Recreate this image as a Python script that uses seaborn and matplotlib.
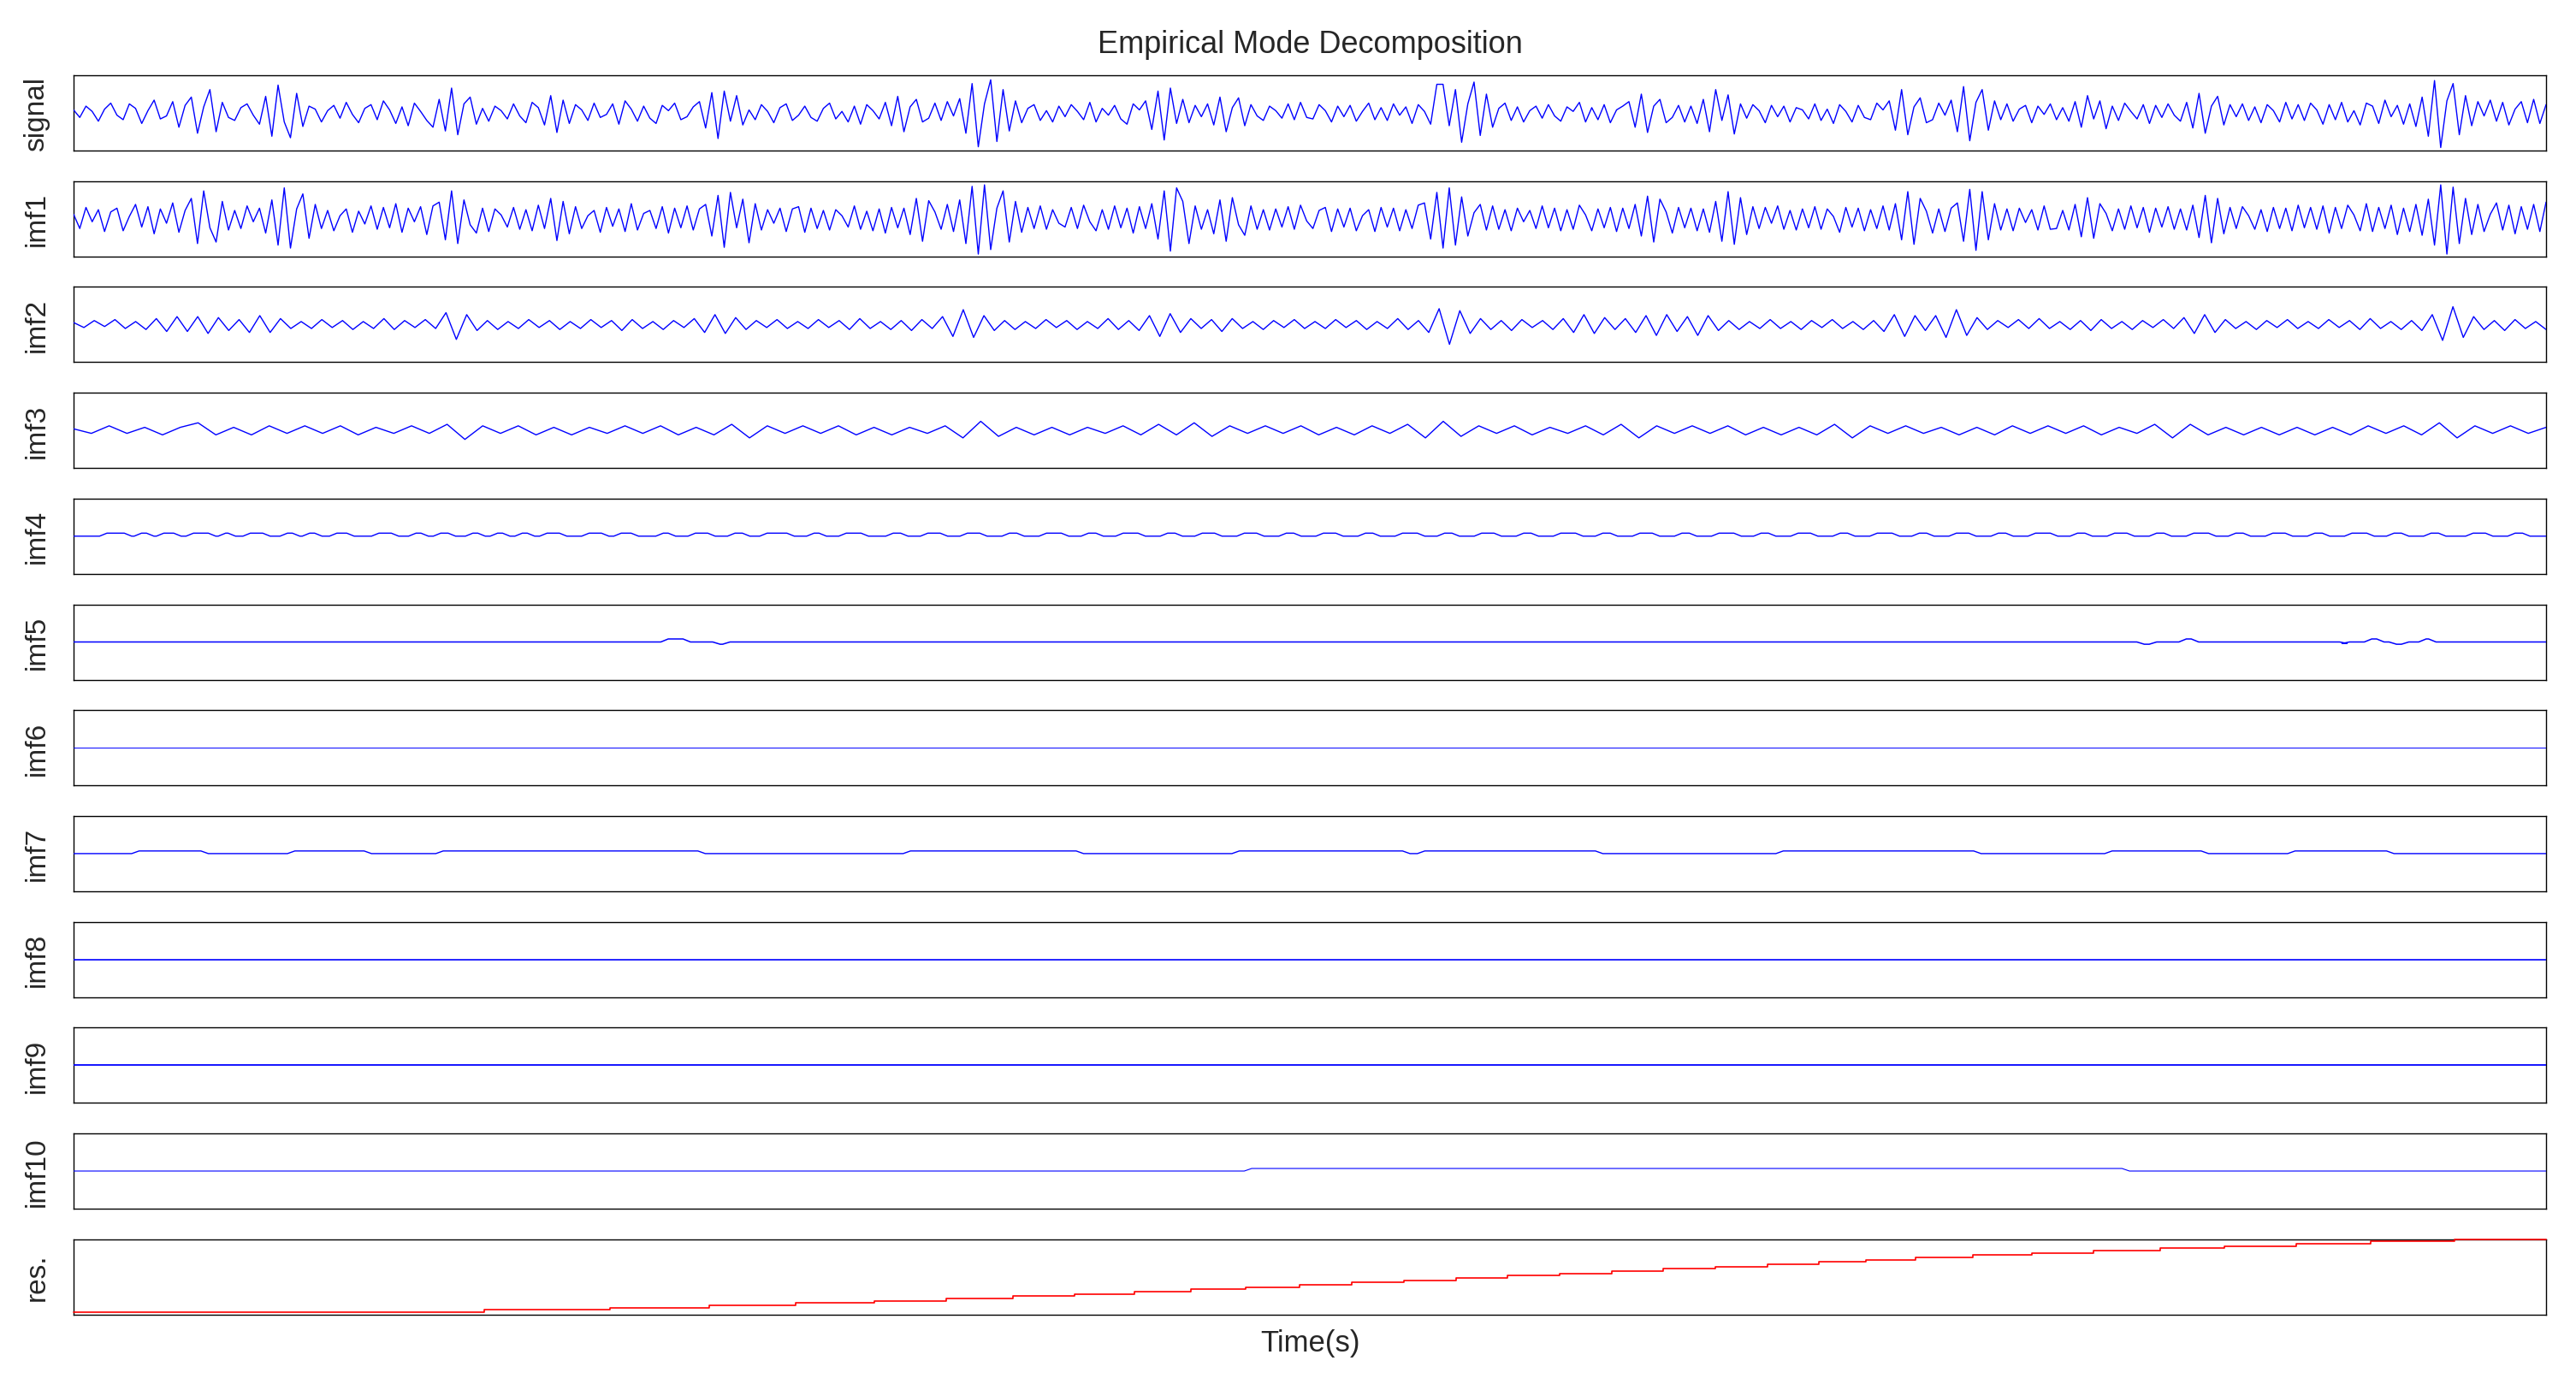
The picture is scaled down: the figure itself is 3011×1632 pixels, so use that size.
import numpy as np
import matplotlib
matplotlib.use("Agg")
import matplotlib.pyplot as plt
import seaborn as sns

# raw signal (units: +-50 = panel half height)
signal = [4, -6, 9, 2, -11, 5, 13, -3, -9, 12, 6, -14, 3, 17, -8, -4, 15, -19, 10, 21,
          -27, 8, 31, -25, 14, -6, -10, 7, 12, -3, -15, 22, -31, 37, -12, -33, 26, -18, 9, 5,
          -12, 3, 10, -7, 14, -2, -13, 6, 11, -9, 16, 4, -14, 8, -17, 13, 2, -10, -19, 18,
          -24, 33, -29, 12, 21, -15, 6, -11, 9, 3, -8, 12, -4, -13, 14, 7, -16, 23, -26, 17,
          -14, 11, 4, -10, 13, -6, -2, 12, -15, 16, 5, -11, 9, -7, -14, 10, 3, 13, -9, -5,
          8, 15, -20, 27, -34, 29, -11, 23, -16, 4, -9, 11, 2, -13, 7, 12, -10, -3, 9, -6,
          -11, 6, 13, -8, 2, -12, 9, -15, 11, 3, -8, 14, -17, 22, -25, 8, 18, -12, -7, 13,
          -10, 15, -4, 19, -27, 39, -45, 12, 44, -38, 31, -24, 16, -13, 6, 11, -10, 3, -12, 9,
          -5, 11, 2, -9, 14, -12, 6, -3, 10, -8, -15, 12, 4, 16, -22, 29, -36, 33, -14, 18,
          -13, 10, -5, 12, -16, 21, -25, 7, 20, -17, 11, -4, -10, 9, 3, -7, 12, -9, 14, -6,
          -8, 11, 3, -12, 9, -5, 10, -11, 2, 13, -9, 7, -10, 12, -3, 8, -14, 11, 2, -15,
          38, 38, -17, 31, -39, 12, 41, -30, 25, -19, 6, 13, -10, 8, -12, 3, 9, -7, 11, -4,
          -11, 8, 2, 14, -12, 7, -9, 11, -13, 4, 9, 15, -19, 25, -26, 9, 18, -13, -6, 10,
          -12, 9, -14, 18, -25, 31, -10, 24, -28, 12, -7, 11, 3, -13, 10, -5, 9, -12, 7, 4,
          -8, 12, -10, 5, -14, 11, 2, -12, 10, -6, -9, 13, 4, 16, -23, 31, -29, 8, 20, -13,
          -9, 13, -3, 17, -25, 35, -37, 14, 31, -23, 16, -9, 12, -11, 5, 10, -13, 9, -2, 12,
          -9, 7, -11, 15, -19, 23, -8, 16, -21, 9, -10, 13, 2, -8, 11, -14, 10, -6, 12, -3,
          -11, 14, -20, 26, -27, 9, 22, -16, 11, -5, 12, -10, 8, -13, 11, 3, -12, 14, -8, 11,
          -10, 13, 4, -15, 11, -9, 14, -12, 3, -16, 13, 9, -14, 17, -5, 10, -15, 12, -18, 21,
          -31, 43, -46, 16, 39, -29, 23, -17, 15, -4, 17, -11, 14, -16, 5, 15, -13, 18, -14, 11]

imf1 = [6, -13, 15, -4, 12, -17, 9, 14, -16, 3, 19, -11, 16, -20, 13, -6, 21, -18, 11, 27,
        -33, 37, -12, -31, 23, -15, 11, -13, 17, -4, 14, -19, 25, -35, 41, -39, 13, 33, -26, 19,
        -13, 11, -16, 4, 13, -18, 10, -7, 17, -14, 15, -12, 20, -18, 14, -4, 16, -21, 17, 22,
        -28, 37, -33, 25, -8, -19, 14, -17, 13, 5, -11, 15, -14, 12, -16, 18, -13, 27, -29, 23,
        -20, 16, -13, 4, 11, -18, 15, -10, 13, -17, 20, -15, 7, 11, -13, 16, -19, 14, -12, 17,
        -15, 13, 19, -23, 31, -38, 35, -12, 26, -32, 20, -15, 12, -6, 14, -17, 13, 16, -18, 14,
        -13, 11, -15, 12, 4, -11, 17, -14, 10, -16, 13, -19, 15, -12, 14, -21, 27, -30, 24, 9,
        -14, 19, -17, 25, -33, 43, -47, 45, -41, 14, 37, -31, 23, -18, 15, -13, 17, -14, 12, -6,
        -11, 15, -13, 18, -4, -16, 12, -14, 17, -12, 14, -19, 16, -13, 20, -27, 37, -43, 41, 23,
        -33, 17, -14, 12, -20, 25, -30, 28, -8, -22, 17, -14, 12, -15, 13, -11, 16, -14, 18, -3,
        -13, 11, 15, -17, 13, -11, 14, -16, 4, 12, -17, 15, -11, 14, -16, 12, -13, 18, 21, -27,
        35, -39, 41, -35, 29, -23, 8, 19, -15, 17, -14, 12, -16, 14, -4, 11, -13, 17, -12, 14,
        -16, 12, -14, 18, 5, -16, 13, -12, 15, -17, 14, -13, 19, -23, 30, -31, 26, 9, -19, 15,
        -12, 14, -16, 13, -18, 23, -30, 36, -34, 28, -21, 16, -13, 15, -6, 17, -14, 11, -15, 13,
        -12, 16, -14, 13, 3, -18, 15, -11, 14, -16, 12, -13, 17, -15, 20, -28, 36, -34, 27, 10,
        -19, 13, -17, 14, 21, -30, 39, -42, 36, -28, 20, -15, 13, -16, 14, -5, 12, -15, 17, -14,
        -13, 11, -15, 19, -24, 28, -26, 20, 7, -16, 13, -14, 17, -12, 15, -18, 14, -11, 16, -14,
        13, -15, 18, -25, 31, -32, 27, -20, 15, -13, 16, 4, -14, 12, -17, 15, -13, 14, -16, 18,
        -12, 15, -14, 17, -19, 15, -13, 18, 5, -16, 20, -17, 15, -13, 18, -21, 14, -17, 19, -22,
        26, -35, 45, -47, 42, -33, 27, -21, 19, -17, 6, 21, -15, 18, -20, 16, -14, 19, -17, 22]

imf2 = [2, -3, 4, -2, 5, -4, 3, -5, 6, -7, 8, -7,
        8, -9, 7, -6, 5, -8, 9, -8, 6, -4, 3, -4,
        5, -3, 4, -5, 3, -4, 6, -5, 4, -3, 5, -4,
        12, -15, 10, -6, 4, -5, 3, -4, 5, -3, 4, -5,
        3, -4, 5, -3, 4, -6, 5, -4, 3, -5, 4, -3,
        6, -8, 10, -9, 7, -5, 4, -3, 5, -4, 3, -4,
        5, -3, 4, -5, 6, -4, 3, -5, 4, -6, 5, -4,
        8, -12, 15, -13, 9, -6, 4, -5, 3, -4, 5, -3,
        4, -5, 3, -4, 6, -5, 4, -6, 9, -12, 11, -8,
        6, -4, 5, -7, 6, -4, 3, -5, 4, -3, 5, -4,
        3, -4, 5, -3, 4, -5, 3, -4, 6, -5, 4, -8,
        16, -20, 14, -9, 6, -5, 4, -6, 5, -3, 4, -5,
        6, -8, 10, -9, 7, -5, 6, -8, 9, -11, 10, -7,
        8, -11, 9, -6, 4, -5, 3, -4, 5, -4, 3, -5,
        4, -3, 5, -4, 3, -5, 4, -7, 10, -12, 9, -6,
        9, -13, 15, -11, 7, -5, 4, -3, 5, -4, 6, -4,
        3, -5, 4, -6, 5, -4, 3, -5, 4, -3, 5, -4,
        7, -9, 10, -8, 5, -4, 3, -5, 4, -3, 5, -4,
        3, -4, 5, -3, 4, -5, 6, -4, 3, -5, 4, -6,
        10, -16, 18, -13, 8, -5, 4, -6, 5, -4, 3, -5]

imf3 = [1, -2, 3, -2, 2, -3, 2, 5, -3, 2, -3, 3, -2, 3,
        -2, 3, -3, 2, -2, 3, -2, 4, -6, 3, -2, 3, -3, 2,
        -3, 2, -2, 3, -2, 3, -3, 2, -3, 4, -5, 3, -2, 3,
        -2, 3, -3, 2, -3, 2, -2, 3, -5, 6, -4, 2, -3, 2,
        -3, 2, -2, 3, -3, 4, -3, 5, -4, 3, -2, 3, -2, 3,
        -3, 2, -3, 3, -2, 4, -5, 6, -4, 3, -2, 3, -3, 2,
        -2, 3, -3, 4, -5, 3, -2, 3, -2, 3, -3, 2, -3, 2,
        -3, 4, -5, 3, -2, 3, -2, 2, -3, 2, -3, 3, -2, 3,
        -2, 3, -3, 2, -2, 4, -5, 4, -3, 2, -3, 2, -3, 2,
        -3, 2, -3, 3, -2, 3, -3, 5, -5, 3, -2, 3, -2, 2]

# imf4: short plateaus above the baseline (start, end as fraction of time)
imf4_up_start = [0.012, 0.026, 0.035, 0.047, 0.060, 0.070, 0.085, 0.094, 0.105, 0.122, 0.137, 0.147,
                 0.160, 0.170, 0.180, 0.190, 0.207, 0.220, 0.237, 0.250, 0.266, 0.279, 0.298, 0.311,
                 0.330, 0.344, 0.360, 0.377, 0.392, 0.409, 0.423, 0.441, 0.455, 0.472, 0.489, 0.504,
                 0.521, 0.536, 0.553, 0.568, 0.585, 0.600, 0.617, 0.632, 0.649, 0.664, 0.681, 0.696,
                 0.713, 0.728, 0.745, 0.760, 0.777, 0.792, 0.809, 0.824, 0.841, 0.856, 0.873, 0.888,
                 0.905, 0.920, 0.937, 0.952, 0.969, 0.986]
imf4_up_end = [0.022, 0.031, 0.042, 0.056, 0.064, 0.078, 0.090, 0.099, 0.112, 0.130, 0.142, 0.153,
               0.165, 0.175, 0.185, 0.198, 0.215, 0.227, 0.242, 0.258, 0.272, 0.290, 0.303, 0.320,
               0.336, 0.352, 0.368, 0.383, 0.401, 0.415, 0.432, 0.447, 0.463, 0.480, 0.495, 0.512,
               0.527, 0.545, 0.559, 0.576, 0.591, 0.609, 0.623, 0.640, 0.655, 0.673, 0.687, 0.704,
               0.719, 0.737, 0.751, 0.768, 0.783, 0.801, 0.815, 0.832, 0.847, 0.865, 0.879, 0.896,
               0.911, 0.929, 0.943, 0.958, 0.977, 0.992]
imf4_level = 4

# imf5: a few bumps on a flat line (start, end, level)
imf5_start = [0.239, 0.260, 0.836, 0.853, 0.918, 0.928, 0.938, 0.950]
imf5_end = [0.248, 0.264, 0.841, 0.858, 0.919, 0.933, 0.943, 0.954]
imf5_level = [4, -3, -3, 4, -2, 4, -3, 4]

# imf7: square wave between 0 and 3.5
imf7_rise = [0.025, 0.088, 0.148, 0.337, 0.470, 0.545, 0.690, 0.823, 0.897]
imf7_fall = [0.053, 0.119, 0.254, 0.407, 0.539, 0.617, 0.770, 0.862, 0.937]
imf7_level = 3.5

# imf10: one raised stretch
imf10_rise = 0.475
imf10_fall = 0.830
imf10_level = 3.4

# residue: staircase, one unit per step
res_steps = [0.166, 0.217, 0.257, 0.292, 0.324, 0.353, 0.380, 0.405, 0.429, 0.452, 0.474, 0.496,
             0.517, 0.538, 0.559, 0.580, 0.601, 0.622, 0.643, 0.664, 0.685, 0.706, 0.725, 0.745,
             0.768, 0.792, 0.817, 0.844, 0.870, 0.899, 0.929, 0.963]

labels = ["signal", "imf1", "imf2", "imf3", "imf4", "imf5", "imf6", "imf7",
          "imf8", "imf9", "imf10", "res."]


def plateaus(starts, ends, levels, ramp=0.0015):
    xs, ys = [0.0], [0.0]
    for s, e, lv in zip(starts, ends, levels):
        xs += [s - ramp, s + ramp, e - ramp, e + ramp]
        ys += [0.0, lv, lv, 0.0]
    xs.append(1.0)
    ys.append(0.0)
    return xs, ys


series = []
for vals in (signal, imf1, imf2, imf3):
    series.append((np.linspace(0, 1, len(vals)), vals))
series.append(plateaus(imf4_up_start, imf4_up_end, [imf4_level] * len(imf4_up_start)))
series.append(plateaus(imf5_start, imf5_end, imf5_level))
series.append(([0, 1], [0, 0]))
series.append(plateaus(imf7_rise, imf7_fall, [imf7_level] * len(imf7_rise)))
series.append(([0, 1], [0, 0]))
series.append(([0, 1], [0, 0]))
series.append(plateaus([imf10_rise], [imf10_fall], [imf10_level]))
res_x = [0.0] + res_steps + [1.0]
res_y = list(range(len(res_steps) + 1)) + [len(res_steps)]

ylims = [(-50, 50), (-50, 50), (-38, 38), (-25, 25), (-50, 50), (-50, 50), (-50, 50),
         (-50, 50), (-50, 50), (-50, 50), (-50, 50), (-1, len(res_steps))]
widths = [1.0, 1.0, 1.0, 1.0, 1.0, 1.1, 0.7, 1.0, 1.2, 1.3, 0.8, 1.2]

sns.set_theme(style="white")
plt.rcParams['font.family'] = ['Liberation Sans', 'DejaVu Sans']

W, H = 3011, 1633
fig = plt.figure(figsize=(W / 100, H / 100), dpi=100)

for i, lab in enumerate(labels):
    top = 89 + 123.7 * i
    ax = fig.add_axes([86 / W, 1 - (top + 88) / H, 2890 / W, 88 / H])
    if i < 11:
        x, y = series[i]
        sns.lineplot(x=x, y=y, ax=ax, color="#0000ff", linewidth=widths[i], sort=False,
                     estimator=None, zorder=3)
    else:
        sns.lineplot(x=res_x, y=res_y, ax=ax, color="#ff0000", linewidth=widths[i],
                     drawstyle="steps-post", estimator=None, zorder=3, clip_on=False)
    ax.set_xlim(0, 1)
    ax.set_ylim(*ylims[i])
    ax.set_xticks([])
    ax.set_yticks([])
    for sp in ax.spines.values():
        sp.set_color("black")
        sp.set_linewidth(1.0)
    ax.set_ylabel(lab, fontsize=24, va="center")
    ax.yaxis.set_label_coords(-0.0149, 0.5)
    if i == 11:
        ax.set_xlabel("Time(s)", fontsize=25, va="center")
        ax.xaxis.set_label_coords(0.5, -0.375)

fig.text(1531 / W, 1 - 52 / H, "Empirical Mode Decomposition", fontsize=26, ha="center", va="center")

plt.savefig("out.png", dpi=100)
